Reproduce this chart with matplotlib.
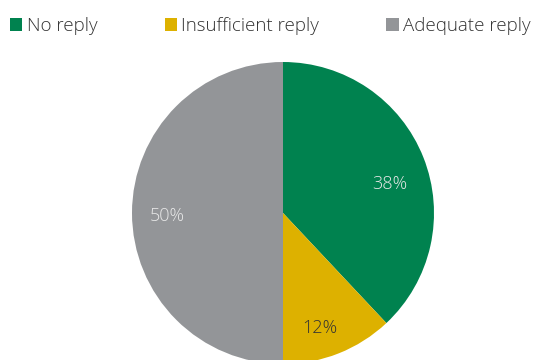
import matplotlib
matplotlib.use("Agg")
import matplotlib.pyplot as plt
import matplotlib.transforms as mtransforms

categories = ["No reply", "Insufficient reply", "Adequate reply"]
values = [38, 12, 50]
colors = ["#00824F", "#DDB100", "#939598"]
label_colors = ["#E8E8E8", "#333333", "#E8E8E8"]
label_nudges_px = [(-1, -14), (-6, -7), (1, -3)]

plt.rcParams['font.family'] = ['Open Sans', 'DejaVu Sans']

W, H = 555, 360
fig = plt.figure(figsize=(W / 100, H / 100), dpi=100)
cx, cy, r = 283, 213, 151
ax = fig.add_axes([(cx - r) / W, (H - cy - r) / H, 2 * r / W, 2 * r / H])
wedges, texts, autotexts = ax.pie(values, colors=colors, startangle=90, counterclock=False,
                                  autopct=lambda p: f"{p:.0f}%", pctdistance=0.77,
                                  textprops=dict(fontsize=13, fontweight='light'),
                                  wedgeprops=dict(linewidth=0))
for t, c, (dx, dy) in zip(autotexts, label_colors, label_nudges_px):
    t.set_color(c)
    t.set_transform(mtransforms.offset_copy(ax.transData, fig=fig, x=dx, y=dy, units='dots'))
ax.set_xlim(-1, 1)
ax.set_ylim(-1, 1)
ax.set_aspect('equal')
ax.axis('off')

leg = fig.legend(wedges, categories, loc='upper left', bbox_to_anchor=(0.0, 0.98),
                 ncol=3, frameon=False, handlelength=0.65, handleheight=0.65,
                 handletextpad=0.25, columnspacing=3.58, borderaxespad=0.53, borderpad=0.0,
                 prop=dict(size=13.5, weight='light'))
for t in leg.get_texts():
    t.set_color("#333333")

fig.savefig("out.png", dpi=100)
